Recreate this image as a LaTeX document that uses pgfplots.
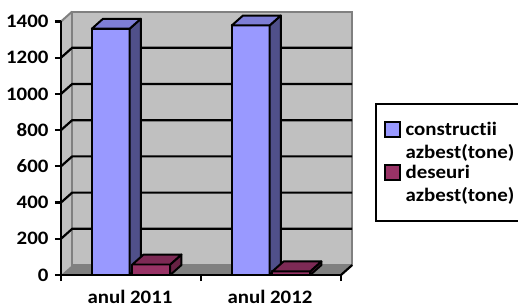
\documentclass[border=0pt]{standalone}
\usepackage{pgfplots}
\pgfplotsset{compat=1.18}
\usepackage{fontspec}
\setmainfont{Carlito}[FakeStretch=1.1, Ligatures=NoCommon]
\definecolor{wallc}{HTML}{C0C0C0}
\definecolor{floorc}{HTML}{808080}
\definecolor{blueF}{HTML}{9999FF}
\definecolor{blueS}{HTML}{50508A}
\definecolor{blueT}{HTML}{7E7ED6}
\definecolor{plumF}{HTML}{993366}
\definecolor{plumS}{HTML}{672244}
\definecolor{plumT}{HTML}{7D2A55}
\newcommand{\lblfont}{\bfseries\fontsize{19bp}{22bp}\selectfont}
\begin{document}
\begin{tikzpicture}
\useasboundingbox (0,0) rectangle (518bp,308bp);
\begin{axis}[
  at={(61bp,33bp)}, anchor=south west,
  scale only axis, width=280bp, height=253.5bp,
  xmin=0, xmax=2, ymin=0, ymax=1400,
  clip=false, axis on top,
  axis x line=bottom, axis y line=left,
  axis line style={-, black, line width=2.2pt},
  xtick={0.5,1.5}, xticklabels={anul 2011, anul 2012},
  minor xtick={0,1,2},
  ytick={0,200,...,1400},
  tick align=outside,
  major tick length=6bp, minor tick length=6bp,
  major x tick style={draw=none},
  minor x tick style={black, line width=2.2pt},
  major y tick style={black, line width=2.2pt},
  /pgf/number format/assume math mode=true,
  /pgf/number format/1000 sep={},
  ticklabel style={font=\lblfont},
  xticklabel style={yshift=-6bp, xshift=-1bp},
  yticklabel style={xshift=-3bp},
  legend style={at={(1.1214,0.6785)}, anchor=north west, draw=black, line width=2pt,
    inner xsep=8bp, inner ysep=16bp, font=\lblfont, cells={align=left}, row sep=1bp,
    /tikz/every odd column/.append style={column sep=3bp}},
  legend image code/.code={\draw[#1, draw=black, line width=1.6pt] (0bp,4bp) rectangle (15bp,19bp);},
]
% side wall and back wall
\addplot[forget plot, fill=wallc, draw=none] coordinates {(0,0) (0.08,55) (0.08,1455) (0,1400)} -- cycle;
\addplot[forget plot, fill=wallc, draw=floorc, line width=2pt] coordinates {(0.08,55) (2.08,55) (2.08,1455) (0.08,1455)} -- cycle;
\addplot[forget plot, draw=floorc, line width=2pt] coordinates {(0,1400) (0.08,1455)};
% gridlines
\addplot[forget plot, black, line width=2.2pt] coordinates {(0,200) (0.08,255) (2.08,255)};
\addplot[forget plot, black, line width=2.2pt] coordinates {(0,400) (0.08,455) (2.08,455)};
\addplot[forget plot, black, line width=2.2pt] coordinates {(0,600) (0.08,655) (2.08,655)};
\addplot[forget plot, black, line width=2.2pt] coordinates {(0,800) (0.08,855) (2.08,855)};
\addplot[forget plot, black, line width=2.2pt] coordinates {(0,1000) (0.08,1055) (2.08,1055)};
\addplot[forget plot, black, line width=2.2pt] coordinates {(0,1200) (0.08,1255) (2.08,1255)};
% floor
\addplot[forget plot, fill=floorc, draw=none] coordinates {(0,0) (2,0) (2.08,55) (0.08,55)} -- cycle;
\addplot[forget plot, black, line width=2.2pt] coordinates {(2,0) (2.08,55)};
% bar 1 blue (1360)
\addplot[forget plot, fill=blueF, draw=black, line width=2pt, line join=round] coordinates {(0.22,0) (0.49,0) (0.49,1360) (0.22,1360)} -- cycle;
\addplot[forget plot, fill=blueS, draw=black, line width=2pt, line join=round] coordinates {(0.49,0) (0.57,55) (0.57,1415) (0.49,1360)} -- cycle;
\addplot[forget plot, fill=blueT, draw=black, line width=2pt, line join=round] coordinates {(0.22,1360) (0.49,1360) (0.57,1415) (0.30,1415)} -- cycle;
% bar 1 plum (58)
\addplot[forget plot, fill=plumF, draw=black, line width=2pt, line join=round] coordinates {(0.51,0) (0.78,0) (0.78,58) (0.51,58)} -- cycle;
\addplot[forget plot, fill=plumS, draw=black, line width=2pt, line join=round] coordinates {(0.78,0) (0.86,55) (0.86,113) (0.78,58)} -- cycle;
\addplot[forget plot, fill=plumT, draw=black, line width=2pt, line join=round] coordinates {(0.51,58) (0.78,58) (0.86,113) (0.59,113)} -- cycle;
% bar 2 blue (1378)
\addplot[forget plot, fill=blueF, draw=black, line width=2pt, line join=round] coordinates {(1.22,0) (1.49,0) (1.49,1378) (1.22,1378)} -- cycle;
\addplot[forget plot, fill=blueS, draw=black, line width=2pt, line join=round] coordinates {(1.49,0) (1.57,55) (1.57,1433) (1.49,1378)} -- cycle;
\addplot[forget plot, fill=blueT, draw=black, line width=2pt, line join=round] coordinates {(1.22,1378) (1.49,1378) (1.57,1433) (1.30,1433)} -- cycle;
% bar 2 plum (20)
\addplot[forget plot, fill=plumF, draw=black, line width=2pt, line join=round] coordinates {(1.51,0) (1.78,0) (1.78,20) (1.51,20)} -- cycle;
\addplot[forget plot, fill=plumS, draw=black, line width=2pt, line join=round] coordinates {(1.78,0) (1.86,55) (1.86,75) (1.78,20)} -- cycle;
\addplot[forget plot, fill=plumT, draw=black, line width=2pt, line join=round] coordinates {(1.51,20) (1.78,20) (1.86,75) (1.59,75)} -- cycle;
% legend
\addlegendimage{fill=blueF}
\addlegendentry{constructii\\[1bp]azbest(tone)}
\addlegendimage{fill=plumF}
\addlegendentry{deseuri\\[1bp]azbest(tone)\rule[-46bp]{0pt}{0pt}}
\end{axis}
\end{tikzpicture}
\end{document}
